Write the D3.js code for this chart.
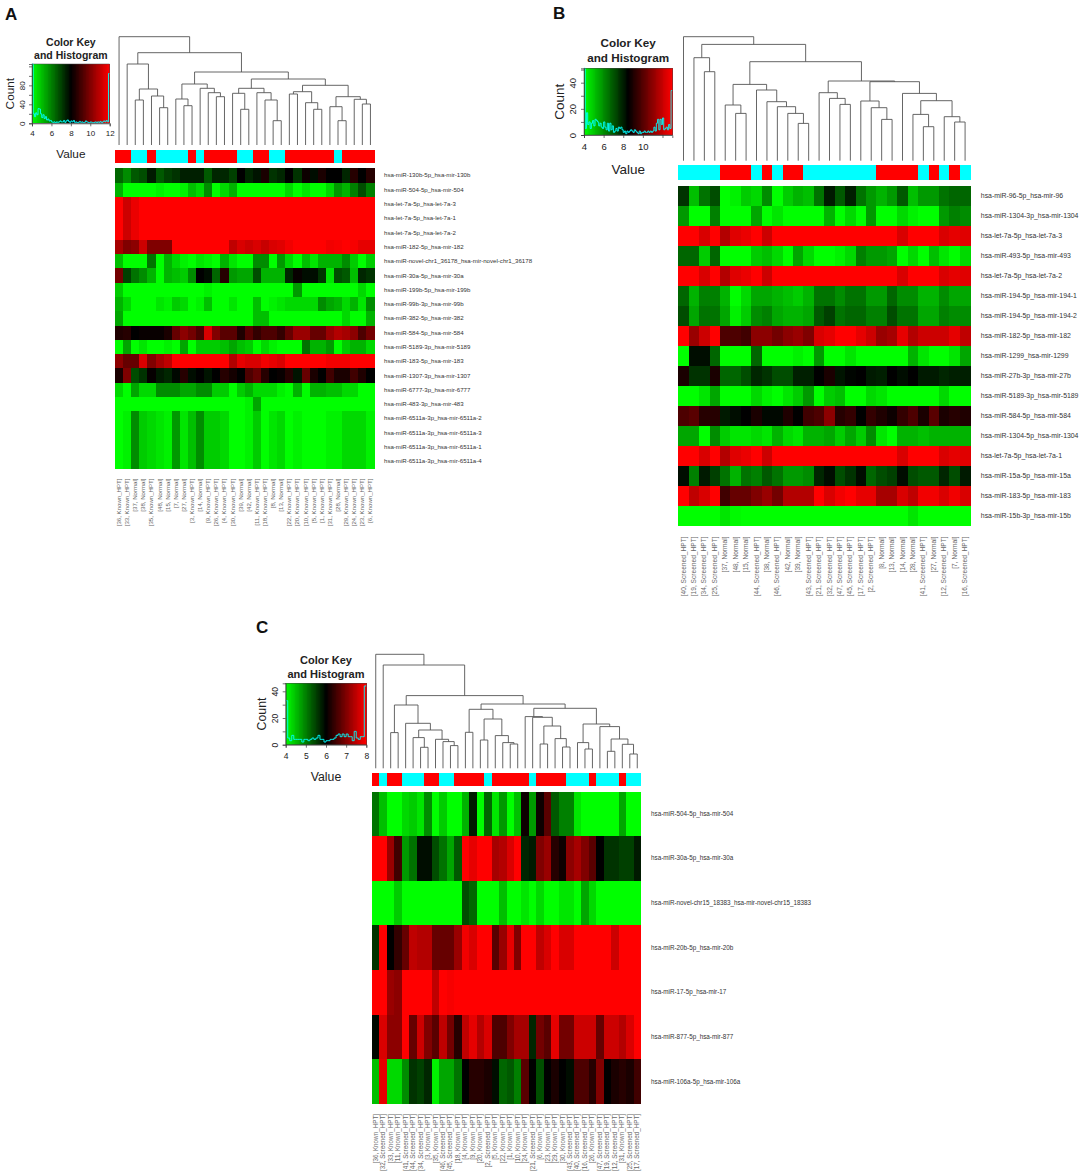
<!DOCTYPE html>
<html>
<head>
<meta charset="utf-8">
<script src="https://cdn.jsdelivr.net/npm/d3@7"></script>
<style>
body { margin: 0; background: #fff; }
text { font-family: "Liberation Sans", Arial, sans-serif; }
</style>
</head>
<body>
<script>
// values are centred on the middle of each colour key: -1 pure green, 0 black, 1 pure red
var rowsA = ["hsa-miR-130b-5p_hsa-mir-130b", "hsa-miR-504-5p_hsa-mir-504", "hsa-let-7a-5p_hsa-let-7a-3", "hsa-let-7a-5p_hsa-let-7a-1", "hsa-let-7a-5p_hsa-let-7a-2", "hsa-miR-182-5p_hsa-mir-182", "hsa-miR-novel-chr1_36178_hsa-mir-novel-chr1_36178", "hsa-miR-30a-5p_hsa-mir-30a", "hsa-miR-199b-5p_hsa-mir-199b", "hsa-miR-99b-3p_hsa-mir-99b", "hsa-miR-382-5p_hsa-mir-382", "hsa-miR-584-5p_hsa-mir-584", "hsa-miR-5189-3p_hsa-mir-5189", "hsa-miR-183-5p_hsa-mir-183", "hsa-miR-1307-3p_hsa-mir-1307", "hsa-miR-6777-3p_hsa-mir-6777", "hsa-miR-483-3p_hsa-mir-483", "hsa-miR-6511a-3p_hsa-mir-6511a-2", "hsa-miR-6511a-3p_hsa-mir-6511a-3", "hsa-miR-6511a-3p_hsa-mir-6511a-1", "hsa-miR-6511a-3p_hsa-mir-6511a-4"];
var colsA = ["[36, Known_HPT]", "[33, Known_HPT]", "[37, Normal]", "[38, Normal]", "[35, Known_HPT]", "[48, Normal]", "[15, Normal]", "[7, Normal]", "[27, Normal]", "[3, Known_HPT]", "[14, Normal]", "[9, Known_HPT]", "[26, Known_HPT]", "[4, Known_HPT]", "[30, Known_HPT]", "[39, Normal]", "[42, Normal]", "[11, Known_HPT]", "[18, Known_HPT]", "[8, Normal]", "[13, Normal]", "[22, Known_HPT]", "[20, Known_HPT]", "[10, Known_HPT]", "[5, Known_HPT]", "[1, Known_HPT]", "[31, Known_HPT]", "[28, Normal]", "[29, Known_HPT]", "[24, Known_HPT]", "[23, Known_HPT]", "[6, Known_HPT]"];
var let7A = [1, .8, .92, 1, 1, 1, 1, 1, 1, 1, 1, 1, 1, 1, 1, 1, 1, 1, 1, 1, 1, 1, 1, 1, 1, 1, 1, 1, 1, 1, 1, 1];
var mir6511A = [-1, -.95, -.55, -.8, -.85, -.9, -.95, -.6, -.9, -.75, -.55, -.8, -.8, -.85, -1, -1, -.95, -.8, -1, -.9, -.85, -1, -.95, -1, -1, -1, -.95, -.95, -.85, -.85, -.85, -.95];
var valuesA = [
  [-.4, -.55, -.35, -.3, -.1, -.35, -.25, -.2, -.12, -.12, -.12, -.35, -.15, -.15, -.25, 0, -.15, -.08, .1, -.2, -.15, 0, -.2, .05, -.05, .1, 0, 0, -.15, .15, 0, .15],
  [-.7, -1, -1, -1, -1, -.95, -1, -1, -.95, -.75, -.85, -.55, -1, -.85, -.7, -1, -1, -1, -1, -1, -1, -.85, -1, -.9, -1, -1, -.85, -.6, -.7, -.5, -.3, -.5],
  let7A,
  let7A,
  let7A,
  [.65, .5, .55, .8, .5, .5, .5, 1, 1, 1, 1, 1, 1, 1, .75, .85, .8, .85, .78, .85, .88, .95, 1, 1, 1, 1, .95, .97, 1, .97, .9, .9],
  [-.75, -1, -1, -1, -.45, -1, -.7, -.85, -.95, -1, -.9, -.95, -1, -.7, -.9, -1, -1, -.55, -.55, -1, -.6, -.85, -1, -.75, -.9, -.7, -.7, -.7, -.55, -.8, -1, -.8],
  [.45, -.25, -.45, -.55, -.7, -1, -.7, -.75, -.8, -.55, 0, -.05, -.4, .15, -.6, -.65, -.65, -.3, -.7, -.7, -.7, -.15, .03, -.05, -.05, -.2, -.9, -.3, -.35, -.75, -.15, -.2],
  [-.8, -1, -1, -1, -1, -1, -1, -1, -1, -1, -1, -.95, -1, -1, -1, -1, -1, -1, -1, -1, -1, -1, -.6, -1, -1, -1, -1, -1, -1, -1, -.85, -1],
  [-.7, -.85, -1, -1, -1, -.9, -.95, -.8, -.85, -1, -.95, -.75, -1, -1, -.9, -1, -1, -.75, -1, -.95, -.9, -.85, -.85, -.85, -.85, -.55, -.65, -.7, -.85, -.7, -.9, -.55],
  [-.65, -1, -1, -1, -1, -1, -1, -1, -1, -1, -1, -1, -1, -1, -1, -1, -1, -.75, -.75, -1, -1, -1, -1, -1, -1, -1, -1, -1, -.85, -1, -1, -.7],
  [.12, .15, 0, .03, .03, .03, .1, .4, .55, .45, .3, .85, .5, .35, .35, .12, .35, .2, .3, .3, .2, .4, .6, .6, .4, .4, .6, .7, .65, .55, .3, .45],
  [-1, -.65, -1, -.9, -1, -1, -.95, -1, -.65, -1, -.8, -.8, -.8, -.75, -.65, -.75, -.8, -1, -.85, -.95, -1, -1, -1, -.45, -.7, -.7, -.6, -1, -.8, -.7, -.7, -.85],
  [.55, .4, .4, .85, .5, .65, .75, 1, 1, 1, 1, 1, 1, 1, .7, .9, .85, .85, .95, .9, .85, 1, 1, 1, 1, 1, .95, .95, .95, 1, 1, 1],
  [.1, .5, -.3, -.2, .02, -.1, -.15, -.03, .15, -.05, 0, -.08, 0, .15, .08, 0, .3, .4, .15, 0, .03, .15, -.08, .4, .1, 0, .25, .1, .1, .25, .12, 0],
  [-.85, -1, -.65, -.85, -.85, -.55, -.55, -.55, -.65, -.65, -.55, -.55, -.8, -.8, -1, -.8, -.7, -.85, -.85, -.85, -.95, -1, -.7, -1, -.7, -.7, -.75, -.75, -.85, -.85, -1, -1],
  [-1, -1, -1, -1, -1, -1, -1, -1, -1, -1, -1, -1, -1, -1, -1, -1, -.95, -.65, -1, -1, -1, -1, -1, -1, -1, -1, -1, -1, -1, -1, -1, -1],
  mir6511A,
  mir6511A,
  mir6511A,
  mir6511A
];
var histA = [125, 20, 14, 22, 18, 31, 30, 20, 12, 18, 10, 14, 7, 9, 5, 6, 3, 2, 3, 1, 3, 2, 3, 5, 3, 3, 6, 2, 5, 7, 4, 2, 5, 3, 6, 2, 3, 1, 2, 4, 2, 3, 1, 2, 5, 3, 2, 1, 3, 2, 1, 2, 3, 1, 3, 2, 4, 1, 3, 5, 3, 6, 3, 105];
// dendrogram branches as [height, left, right], a 0 is one column
var a1 = [81, 0, [56, [45, 0, 0], [49, 0, [37.3, 0, 0]]]];
var a2 = [61, [46, 0, [39.3, 0, 0]], [56.7, 0, [52.3, 0, [48.3, 0, 0]]]];
var a3 = [56.7, [51.7, 0, [35.7, 0, 0]], [52.3, 0, [45, 0, [24.3, 0, 0]]]];
var a4 = [59.7, [53.3, [51, 0, 0], [42.3, 0, [35.7, 0, 0]]], [48.3, [38.3, 0, [24.3, 0, 0]], [45.7, 0, [41, 0, 0]]]];
var treeA = [108.3, 0, [92.3, a1, [73, a2, [66, a3, a4]]]];

var rowsB = ["hsa-miR-96-5p_hsa-mir-96", "hsa-miR-1304-3p_hsa-mir-1304", "hsa-let-7a-5p_hsa-let-7a-3", "hsa-miR-493-5p_hsa-mir-493", "hsa-let-7a-5p_hsa-let-7a-2", "hsa-miR-194-5p_hsa-mir-194-1", "hsa-miR-194-5p_hsa-mir-194-2", "hsa-miR-182-5p_hsa-mir-182", "hsa-miR-1299_hsa-mir-1299", "hsa-miR-27b-3p_hsa-mir-27b", "hsa-miR-5189-3p_hsa-mir-5189", "hsa-miR-584-5p_hsa-mir-584", "hsa-miR-1304-5p_hsa-mir-1304", "hsa-let-7a-5p_hsa-let-7a-1", "hsa-miR-15a-5p_hsa-mir-15a", "hsa-miR-183-5p_hsa-mir-183", "hsa-miR-15b-3p_hsa-mir-15b"];
var colsB = ["[40, Screened_HPT]", "[19, Screened_HPT]", "[34, Screened_HPT]", "[25, Screened_HPT]", "[37, Normal]", "[48, Normal]", "[15, Normal]", "[44, Screened_HPT]", "[38, Normal]", "[46, Screened_HPT]", "[42, Normal]", "[39, Normal]", "[43, Screened_HPT]", "[21, Screened_HPT]", "[32, Screened_HPT]", "[47, Screened_HPT]", "[45, Screened_HPT]", "[17, Screened_HPT]", "[2, Screened_HPT]", "[8, Normal]", "[13, Normal]", "[14, Normal]", "[28, Normal]", "[41, Screened_HPT]", "[27, Normal]", "[12, Screened_HPT]", "[7, Normal]", "[16, Screened_HPT]"];
var let7B = [1, 1, .85, 1, .7, .88, .92, 1, .8, 1, 1, 1, 1, 1, 1, 1, 1, 1, 1, 1, 1, .85, 1, 1, 1, .85, .9, .88];
var valuesB = [
  [-.2, -.75, -.45, -.3, -1, -.95, -.8, -.85, -.55, -1, -.8, -.7, -.75, -.45, -.1, -.35, -.12, -.45, -.6, -.7, -.6, -.35, -.75, -.6, -.6, -.45, -.4, -.4],
  [-.6, -1, -1, -.5, -1, -1, -1, -.65, -1, -.9, -1, -1, -1, -1, -.7, -1, -.85, -1, -.6, -1, -1, -.85, -.95, -1, -1, -.6, -.5, -.55],
  let7B,
  [-.4, -.4, -.8, -.4, -1, -1, -1, -.8, -.75, -.85, -1, -.65, -.85, -1, -1, -.95, -.85, -.5, -.6, -.6, -.65, -1, -.85, -1, -.75, -.9, -1, -.85],
  let7B,
  [-.4, -.7, -.5, -.5, -.7, -1, -.85, -.65, -.65, -.7, -.75, -.8, -.7, -.45, -.45, -.55, -.45, -.45, -.6, -.6, -.4, -.55, -.55, -.7, -.7, -.55, -.65, -.65],
  [-.3, -.65, -.45, -.45, -.65, -.95, -.8, -.55, -.5, -.65, -.7, -.7, -.65, -.35, -.25, -.45, -.4, -.4, -.5, -.5, -.3, -.45, -.45, -.65, -.65, -.5, -.55, -.55],
  [1, .6, .8, 1, .3, .3, .25, .55, .55, .45, .55, .6, .5, .85, .9, 1, 1, .9, .8, .6, .65, .9, .7, .8, .8, .8, .9, .75],
  [-1, -.05, -.05, -.4, -1, -1, -1, -.4, -1, -1, -1, -.95, -1, -.6, -1, -1, -.9, -1, -1, -1, -1, -1, -.7, -.9, -1, -1, -.9, -.65],
  [.1, -.2, -.2, .1, -.4, -.4, -.3, -.15, -.2, -.3, -.3, -.12, -.12, 0, .1, -.08, -.02, 0, -.1, -.12, 0, -.05, 0, -.1, -.1, -.15, -.12, -.12],
  [-1, -1, -.9, -.65, -1, -1, -1, -.85, -.95, -1, -.9, -.8, -.6, -1, -.8, -.75, -1, -1, -.85, -.9, -1, -1, -1, -1, -1, -.85, -1, -1],
  [.3, .35, .15, .15, -.1, -.05, 0, .1, -.03, -.03, .12, 0, .25, .3, .55, .15, .2, 0, .2, .12, .05, .2, .3, .1, .35, .1, .15, .12],
  [-.65, -.65, -1, -.55, -.8, -.9, -.9, -.85, -.9, -.7, -.85, -.9, -.7, -.7, -.65, -.8, -.65, -.8, -.55, -.9, -1, -.7, -.7, -.75, -.7, -.7, -.7, -.7],
  let7B,
  [-.05, -.5, -.1, -.25, -.45, -.7, -.45, -.5, -.35, -.45, -.6, -.6, -.55, -.15, -.05, -.3, -.2, -.05, -.4, -.3, -.25, -.05, -.3, -.35, -.35, -.15, -.3, -.1],
  [1, .75, .85, 1, .25, .4, .4, .5, .6, .45, .7, .7, .7, 1, .85, .95, 1, .9, .9, .65, .65, .85, .75, .95, .95, .85, .95, .85],
  [-1, -1, -1, -1, -.9, -.98, -1, -1, -1, -1, -1, -1, -1, -1, -1, -1, -1, -1, -1, -1, -1, -1, -.9, -1, -1, -1, -1, -1]
];
var histB = [51, 5, 17, 8, 10, 5, 9, 11, 7, 12, 11, 10, 7, 9, 6, 5, 10, 6, 4, 9, 3, 9, 4, 7, 2, 3, 5, 3, 6, 5, 6, 4, 2, 3, 1, 3, 2, 3, 4, 3, 2, 4, 3, 2, 1, 3, 1, 2, 2, 3, 2, 2, 3, 2, 3, 2, 3, 6, 3, 9, 12, 4, 12, 8, 13, 4, 5, 6, 4, 8, 5, 34];
var b1 = [103, 0, [89, 0, 0]];
var b2 = [76.3, [55.7, 0, [47.3, 0, 0]], [70.7, 0, [59, 0, [54, 0, [47.3, 0, [37.3, 0, 0]]]]]];
var b3 = [68, 0, [62.3, 0, [56.3, 0, 0]]];
var b4 = [59.7, 0, [53, 0, [41.3, 0, 0]]];
var b5 = [67.3, 0, [60, [46.3, 0, [34, 0, 0]], [44, 0, [38.7, 0, 0]]]];
var treeB = [124, 0, [116.3, b1, [99, b2, [79.7, b3, [79, b4, b5]]]]];

var rowsC = ["hsa-miR-504-5p_hsa-mir-504", "hsa-miR-30a-5p_hsa-mir-30a", "hsa-miR-novel-chr15_18383_hsa-mir-novel-chr15_18383", "hsa-miR-20b-5p_hsa-mir-20b", "hsa-miR-17-5p_hsa-mir-17", "hsa-miR-877-5p_hsa-mir-877", "hsa-miR-106a-5p_hsa-mir-106a"];
var colsC = ["[36, Known_HPT]", "[32, Screened_HPT]", "[33, Known_HPT]", "[11, Known_HPT]", "[41, Screened_HPT]", "[44, Screened_HPT]", "[34, Screened_HPT]", "[3, Known_HPT]", "[35, Known_HPT]", "[46, Screened_HPT]", "[45, Screened_HPT]", "[18, Known_HPT]", "[4, Known_HPT]", "[9, Known_HPT]", "[20, Known_HPT]", "[2, Screened_HPT]", "[5, Known_HPT]", "[22, Known_HPT]", "[1, Known_HPT]", "[10, Known_HPT]", "[24, Known_HPT]", "[21, Screened_HPT]", "[6, Known_HPT]", "[23, Known_HPT]", "[29, Known_HPT]", "[30, Known_HPT]", "[43, Screened_HPT]", "[40, Screened_HPT]", "[16, Screened_HPT]", "[26, Known_HPT]", "[47, Screened_HPT]", "[19, Screened_HPT]", "[12, Screened_HPT]", "[31, Known_HPT]", "[25, Screened_HPT]", "[17, Screened_HPT]"];
var valuesC = [
  [-.45, -.75, -1, -1, -.85, -.8, -.9, -.55, -1, -.8, -1, -1, -.7, -.1, -1, -.4, -.9, -.6, -1, -.75, .05, -.6, .05, .35, -.35, -.5, -.5, -.9, -1, -1, -1, -1, -1, -.65, -1, -1],
  [1, 1, .6, .25, -.6, -.45, -.05, -.05, -.3, -.45, -.65, -.35, 1, .9, 1, 1, .65, .7, .85, 1, -.15, -.1, .5, .6, .15, .05, .55, .65, .5, .35, 0, -.2, -.2, -.25, -.25, -.1],
  [-1, -1, -1, -.8, -1, -1, -1, -1, -1, -1, -1, -1, -.3, -.4, -1, -1, -1, -.75, -1, -1, -.9, -1, -.85, -1, -1, -.9, -.9, -1, -.65, -.85, -1, -1, -1, -1, -1, -1],
  [-.2, 1, 0, .2, .4, .75, .7, .7, .4, .4, .4, .6, .95, .85, 1, 1, .35, .6, .9, .5, 1, 1, .75, .85, 1, .85, .85, 1, 1, 1, 1, 1, .8, 1, 1, 1],
  [1, 1, .6, .55, 1, 1, 1, 1, .75, 1, .97, 1, 1, 1, 1, 1, 1, 1, 1, 1, 1, 1, 1, 1, 1, 1, 1, 1, 1, 1, 1, 1, 1, 1, 1, 1],
  [-.03, .85, .55, .55, 1, .4, .8, .5, .35, .75, .45, .15, .75, .9, .7, .85, .3, .3, .5, .65, .65, -.15, .45, .35, .9, .45, .45, .8, .8, .8, .4, .8, .8, .7, .85, 1],
  [-.75, .9, -.85, -.85, -.55, -.2, -.25, -.15, -.95, -.65, -.65, -.45, 0, .15, .15, .1, -.05, -.4, -.35, -.5, .35, 0, -.3, 0, .1, 0, -.05, .3, .3, .15, .5, 0, .1, .15, .1, .25]
];
var histC = [33, 5, 3, 7, 4, 4, 4, 4, 2, 4, 4, 3, 4, 5, 4, 5, 7, 4, 4, 2, 3, 3, 4, 4, 5, 7, 8, 6, 8, 6, 8, 6, 6, 3, 10, 5, 4, 6, 6, 44];
var c1 = [63.3, [35.7, 0, 0], [45, 0, [38.3, [30.7, 0, [21, 0, 0]], [29, 0, [26.7, 0, [22.7, 0, 0]]]]]];
var c2 = [59, [36, 0, 0], [49.3, [28.3, 0, 0], [32.7, 0, [25.7, 0, [24.3, 0, 0]]]]];
var c3 = [51.7, 0, [51, 0, [42.3, [24.3, 0, 0], [29.7, 0, [21.3, 0, 0]]]]];
var c4 = [44.3, [25.7, 0, [19.3, 0, 0]], [41.7, 0, [29.3, [17, 0, 0], [24, 0, [14.3, 0, 0]]]]];
var treeC = [114, 0, [103.3, 0, [72.7, c1, [64.3, c2, [60, c3, c4]]]]];

var svg = d3.select("body").append("svg")
  .attr("width", 1084)
  .attr("height", 1176);

var heat = d3.scaleLinear().domain([-1, 0, 1]).range(["#00ff00", "#000000", "#ff0000"]);

function drawPanel(p) {
  var g = svg.append("g");
  var x = d3.scaleBand().domain(d3.range(p.cols.length)).range([p.x0, p.x1]);
  var y = d3.scaleBand().domain(d3.range(p.rows.length)).range([p.y0, p.y1]);

  g.append("text").text(p.letter)
    .attr("x", p.letterX).attr("y", p.letterY)
    .attr("font-size", 17).attr("font-weight", "bold").attr("fill", "#111");

  // heat cells
  g.selectAll(".row").data(p.values).enter().append("g")
    .attr("class", "row")
    .attr("shape-rendering", "crispEdges")
    .selectAll("rect")
    .data(function(d, i) { return d.map(function(v, j) { return { v: v, i: i, j: j }; }); })
    .enter().append("rect")
    .attr("x", function(d) { return x(d.j); })
    .attr("y", function(d) { return y(d.i); })
    .attr("width", x.bandwidth() + 0.3)
    .attr("height", y.bandwidth() + 0.3)
    .attr("fill", function(d) { return heat(d.v); });

  // side colours, one for each column group
  g.selectAll(".side").data(p.cols).enter().append("rect")
    .attr("class", "side")
    .attr("shape-rendering", "crispEdges")
    .attr("x", function(d, i) { return x(i); })
    .attr("y", p.sideY0)
    .attr("width", x.bandwidth() + 0.3)
    .attr("height", p.sideY1 - p.sideY0)
    .attr("fill", function(d) { return d.indexOf(p.redGroup) >= 0 ? "#ff0000" : "#00ffff"; });

  g.selectAll(".rowlab").data(p.rows).enter().append("text")
    .attr("class", "rowlab")
    .text(function(d) { return d; })
    .attr("x", p.x1 + p.labGap)
    .attr("y", function(d, i) { return y(i) + y.bandwidth() / 2 + 2; })
    .attr("font-size", p.labSize)
    .attr("fill", "#333");

  g.selectAll(".collab").data(p.cols).enter().append("text")
    .attr("class", "collab")
    .text(function(d) { return d; })
    .attr("text-anchor", "end")
    .attr("transform", function(d, i) {
      return "translate(" + (x(i) + x.bandwidth() / 2 + 2) + "," + p.colY + ") rotate(-90)";
    })
    .attr("font-size", p.colSize)
    .attr("fill", "#666");

  // dendrogram
  var yd = d3.scaleLinear().domain([0, p.tree[0]]).range([p.treeY0, p.treeY1]);
  var root = d3.hierarchy(p.tree, function(d) { return Array.isArray(d) ? d.slice(1) : null; });
  var n = 0;
  root.eachAfter(function(node) {
    if (node.children) {
      node.px = (node.children[0].px + node.children[1].px) / 2;
      node.py = yd(node.data[0]);
    } else {
      node.px = x(n) + x.bandwidth() / 2;
      node.py = yd(0);
      n++;
    }
  });
  g.selectAll(".merge").data(root.descendants().filter(function(d) { return d.children; }))
    .enter().append("path")
    .attr("class", "merge")
    .attr("d", function(d) {
      var a = d.children[0], b = d.children[1];
      return "M" + a.px + "," + a.py + "V" + d.py + "H" + b.px + "V" + b.py;
    })
    .attr("fill", "none")
    .attr("stroke", "#555")
    .attr("stroke-width", 0.9);

  // colour key
  var kx = d3.scaleLinear().domain(p.keyDomain).range([p.keyX0, p.keyX1]);
  var ky = d3.scaleLinear().domain([0, p.keyTop]).range([p.keyY1, p.keyY0]);
  var keyMid = (p.keyDomain[0] + p.keyDomain[1]) / 2;
  var keyHalf = (p.keyDomain[1] - p.keyDomain[0]) / 2;
  var strips = d3.range(0, 100).map(function(i) { return p.keyDomain[0] + i * keyHalf / 50; });
  g.selectAll(".strip").data(strips).enter().append("rect")
    .attr("class", "strip")
    .attr("shape-rendering", "crispEdges")
    .attr("x", function(d) { return kx(d); })
    .attr("y", p.keyY0)
    .attr("width", (p.keyX1 - p.keyX0) / 100 + 0.5)
    .attr("height", p.keyY1 - p.keyY0)
    .attr("fill", function(d) { return heat((d + keyHalf / 100 - keyMid) / keyHalf); });

  var binW = (p.keyDomain[1] - p.keyDomain[0]) / p.hist.length;
  var histPts = p.hist.map(function(c, i) { return [p.keyDomain[0] + i * binW, c]; });
  histPts.push([p.keyDomain[1], p.hist[p.hist.length - 1]]);
  g.append("path")
    .attr("d", d3.line().curve(d3.curveStepAfter)
      .x(function(d) { return kx(d[0]); })
      .y(function(d) { return ky(d[1]); })(histPts))
    .attr("fill", "none")
    .attr("stroke", "#00ffff")
    .attr("stroke-width", 0.9);

  var axB = g.append("g")
    .attr("transform", "translate(0," + p.keyY1 + ")")
    .call(d3.axisBottom(kx).tickValues(p.xTicks).tickSize(3).tickPadding(p.xPad)
      .tickFormat(function(d) { return p.xLabels.indexOf(d) >= 0 ? d : ""; }));
  var axL = g.append("g")
    .attr("transform", "translate(" + p.keyX0 + ",0)")
    .call(d3.axisLeft(ky).tickValues(p.yTicks).tickSize(3)
      .tickFormat(function(d) { return p.yLabels.indexOf(d) >= 0 ? d : ""; }));
  axB.selectAll("text").attr("font-size", p.tickSize).attr("fill", "#222");
  axL.selectAll("text")
    .attr("font-size", p.tickSize).attr("fill", "#222")
    .attr("text-anchor", "middle")
    .attr("dy", 0)
    .attr("x", 0)
    .attr("transform", "translate(" + p.yOff + ",0) rotate(-90)");
  [axB, axL].forEach(function(a) {
    a.selectAll("line,path").attr("stroke", "#333").attr("stroke-width", 0.7);
  });
  g.append("rect")
    .attr("x", p.keyX0).attr("y", p.keyY0)
    .attr("width", p.keyX1 - p.keyX0).attr("height", p.keyY1 - p.keyY0)
    .attr("fill", "none").attr("stroke", "#444").attr("stroke-width", 0.5);

  var keyC = (p.keyX0 + p.keyX1) / 2;
  g.selectAll(".keytitle").data(["Color Key", "and Histogram"]).enter().append("text")
    .attr("class", "keytitle")
    .text(function(d) { return d; })
    .attr("x", keyC)
    .attr("y", function(d, i) { return p.titleY + i * p.titleStep; })
    .attr("text-anchor", "middle")
    .attr("font-size", p.titleSize)
    .attr("font-weight", "bold")
    .attr("fill", "#222");
  g.append("text").text("Value")
    .attr("x", keyC).attr("y", p.valueY)
    .attr("text-anchor", "middle")
    .attr("font-size", p.axisSize).attr("fill", "#222");
  g.append("text").text("Count")
    .attr("transform", "translate(" + p.countX + "," + ((p.keyY0 + p.keyY1) / 2) + ") rotate(-90)")
    .attr("text-anchor", "middle")
    .attr("font-size", p.axisSize).attr("fill", "#222");
}

drawPanel({
  letter: "A", letterX: 5, letterY: 20,
  rows: rowsA, cols: colsA, values: valuesA, tree: treeA, hist: histA, redGroup: "Known",
  x0: 115, x1: 374.5, y0: 168.3, y1: 468.5,
  sideY0: 150, sideY1: 163.3, treeY0: 145, treeY1: 36.7,
  labGap: 9.5, labSize: 6.1, colY: 478.5, colSize: 6.1,
  keyX0: 32, keyX1: 109.7, keyY0: 64, keyY1: 123.3, keyDomain: [4, 12], keyTop: 125,
  xTicks: [4, 6, 8, 10, 12], xLabels: [4, 6, 8, 10, 12],
  yTicks: [0, 20, 40, 60, 80, 100, 120], yLabels: [0, 40, 80],
  xPad: 4, yOff: -7, tickSize: 8, titleY: 45.5, titleStep: 13, titleSize: 10.5, valueY: 158, axisSize: 11.8, countX: 14
});

drawPanel({
  letter: "B", letterX: 553, letterY: 19,
  rows: rowsB, cols: colsB, values: valuesB, tree: treeB, hist: histB, redGroup: "Normal",
  x0: 678.3, x1: 970.3, y0: 186, y1: 526,
  sideY0: 165, sideY1: 180, treeY0: 160.7, treeY1: 36.7,
  labGap: 10.5, labSize: 6.9, colY: 536.5, colSize: 6.6,
  keyX0: 584, keyX1: 672.3, keyY0: 68.3, keyY1: 135, keyDomain: [4, 13], keyTop: 51,
  xTicks: [4, 6, 8, 10, 12], xLabels: [4, 6, 8, 10],
  yTicks: [0, 10, 20, 30, 40, 50], yLabels: [0, 20, 40],
  xPad: 5, yOff: -8.5, tickSize: 9.5, titleY: 47, titleStep: 14.5, titleSize: 11.7, valueY: 174, axisSize: 13.5, countX: 564
});

drawPanel({
  letter: "C", letterX: 256, letterY: 633,
  rows: rowsC, cols: colsC, values: valuesC, tree: treeC, hist: histC, redGroup: "Known",
  x0: 372, x1: 641, y0: 791.5, y1: 1104,
  sideY0: 772.7, sideY1: 786, treeY0: 768.3, treeY1: 654.3,
  labGap: 10, labSize: 6.3, colY: 1114, colSize: 6.3,
  keyX0: 285.7, keyX1: 366.3, keyY0: 683.3, keyY1: 744.7, keyDomain: [4, 8], keyTop: 46,
  xTicks: [4, 5, 6, 7, 8], xLabels: [4, 5, 6, 7, 8],
  yTicks: [0, 10, 20, 30, 40], yLabels: [0, 20, 40],
  xPad: 5, yOff: -8, tickSize: 8.5, titleY: 664, titleStep: 13.5, titleSize: 11, valueY: 781, axisSize: 12.3, countX: 266
});
</script>
</body>
</html>
